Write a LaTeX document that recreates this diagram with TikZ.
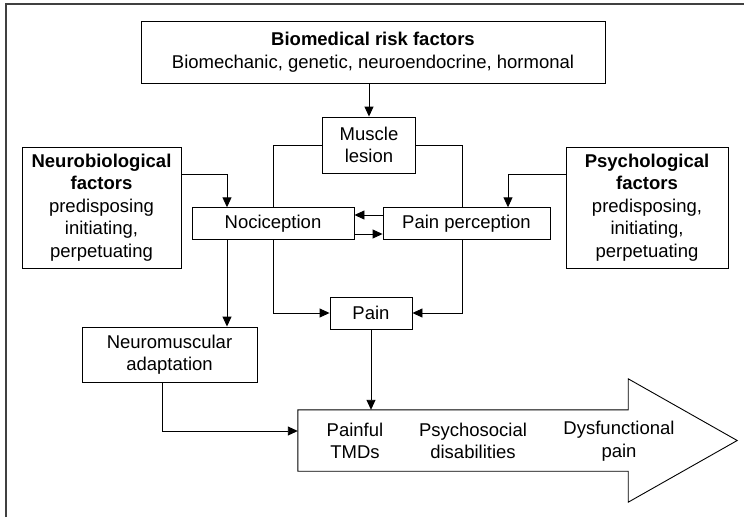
\documentclass[tikz,border=0pt]{standalone}
\usepackage{fontspec}
\setmainfont{Liberation Sans}
\usetikzlibrary{arrows.meta,backgrounds}
\newcommand\dfont{\fontsize{18.5}{22.5}\selectfont}
\begin{document}
\begin{tikzpicture}[x=1pt,y=-1pt,
  box/.style={draw,line width=0.9pt,fill=white,inner sep=0pt,align=center,font=\dfont},
  txt/.style={inner sep=0pt,align=center,font=\dfont},
  arr/.style={line width=0.9pt,-{Triangle[length=10pt,width=9pt]}},
  ln/.style={line width=0.9pt}]
\useasboundingbox (0,0) rectangle (744,517);
\draw[line width=1.4pt,black!75] (6,517) -- (6,4) -- (744,4);

\node[box,minimum width=464pt,minimum height=62pt] (bio) at (373,52)
  {\textbf{Biomedical risk factors}\\Biomechanic, genetic, neuroendocrine, hormonal};
\node[box,minimum width=93pt,minimum height=56pt] (muscle) at (369,145) {Muscle\\lesion};
\node[box,minimum width=162pt,minimum height=31.5pt] (noci) at (273,223.5) {Nociception};
\node[box,minimum width=167pt,minimum height=31.5pt] (perc) at (466.5,223.5) {Pain perception};
\node[box,minimum width=159pt,minimum height=121pt] (neuro) at (101.5,207.5)
  {\textbf{Neurobiological}\\\textbf{factors}\\predisposing\\initiating,\\perpetuating};
\node[box,minimum width=162pt,minimum height=121pt] (psych) at (647,207.5)
  {\textbf{Psychological}\\\textbf{factors}\\predisposing,\\initiating,\\perpetuating};
\node[box,minimum width=82pt,minimum height=32pt] (pain) at (371,313) {Pain};
\node[box,minimum width=175pt,minimum height=55pt] (nm) at (169.5,354.5) {Neuromuscular\\adaptation};

\node[minimum width=330pt,minimum height=61pt,inner sep=0pt] (body) at (463,440.5) {};
\draw[ln] (body.north west) -- (body.north east) -- ++(0,-31) -- ([xshift=109pt]body.east)
  -- ([yshift=-31pt]body.south east) -- (body.south east) -- (body.south west) -- cycle;
\node[txt] (t1) at (355,441) {Painful\\TMDs};
\node[txt] (t2) at (473,441) {Psychosocial\\disabilities};
\node[txt] (t3) at (619,441) {Dysfunctional\\pain};

\begin{scope}[on background layer]
\draw[arr] (muscle.north |- bio.south) -- (muscle.north);
\draw[arr] (muscle.west) -| ([xshift=-56pt]pain.west) -- (pain.west);
\draw[arr] (muscle.east) -| ([xshift=50pt]pain.east) -- (pain.east);
\draw[arr] ([yshift=33.5pt]neuro.east) -| ([xshift=-46pt]noci.north);
\draw[arr] ([yshift=33.5pt]psych.west) -| ([xshift=41.5pt]perc.north);
\draw[arr] ([yshift=8.5pt]perc.west) -- ([yshift=8.5pt]noci.east);
\draw[arr] ([yshift=-10.5pt]noci.east) -- ([yshift=-10.5pt]perc.west);
\draw[arr] ([xshift=-46pt]noci.south) -- ([xshift=-46pt]noci.south |- nm.north);
\draw[arr] ([xshift=-7.5pt]nm.south) |- ([yshift=9.5pt]body.west);
\draw[arr] (pain.south) -- (pain.south |- body.north);
\end{scope}
\end{tikzpicture}
\end{document}
